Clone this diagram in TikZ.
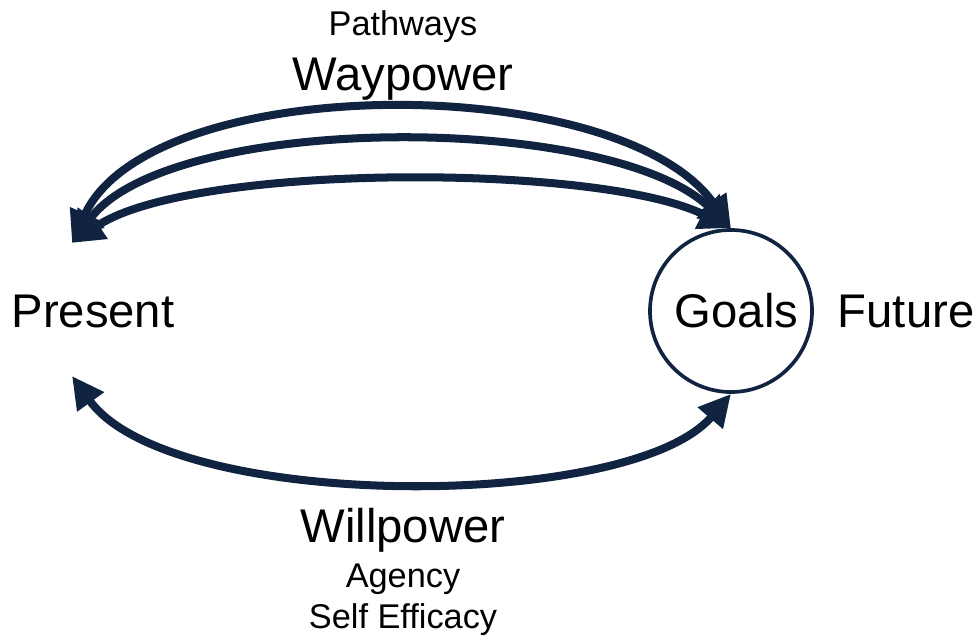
\documentclass[tikz,border=0pt]{standalone}
\usepackage{fontspec}
\setmainfont{Liberation Sans}
\usepackage{tikz}
\usetikzlibrary{arrows.meta,positioning}

\definecolor{navy}{RGB}{16,35,64}

\tikzset{
  big/.style = {font = \fontsize{33.6}{38}\selectfont, inner sep = 0pt},
  small/.style = {font = \fontsize{24.4}{28}\selectfont, inner sep = 0pt},
  goalcircle/.style = {draw = navy, line width = 2.6pt, shape = circle, minimum size = 4.05cm, inner sep = 0pt},
  power/.style = {draw = navy, line width = 5.7pt, {Triangle[length = 0.8cm, width = 0.78cm]}-{Triangle[length = 0.8cm, width = 0.78cm]}}
}

\begin{document}
\begin{tikzpicture}[x = 0.025cm, y = -0.025cm]
\useasboundingbox (0,0) rectangle (978,637);
\node[big] (present) at (93,311) {Present};
\node[goalcircle] (goals) at (731,311) {};
\node[big] at ([xshift=4]goals.center) {Goals};
\node[big] (future) at (906,311) {Future};
\node[small] (pathways) at (403,27) {Pathways};
\node[big] (waypower) at (403,79) {Waypower};
\node[big] (willpower) at (403,530) {Willpower};
\node[small] (agency) at (403,579) {Agency};
\node[small] (efficacy) at (403,620) {Self Efficacy};
\coordinate (wayend) at (72,243);
\coordinate (willend) at (72,376);
% three pathway arcs
\draw[power] (wayend) .. controls (150,70) and (620,70) .. (goals.north);
\draw[power] (wayend) .. controls (170,112) and (610,112) .. (goals.north);
\draw[power] (wayend) .. controls (190,163) and (600,163) .. (goals.north);
% willpower arc
\draw[power] (willend) .. controls (170,512) and (630,512) .. (goals.south);
\end{tikzpicture}
\end{document}
